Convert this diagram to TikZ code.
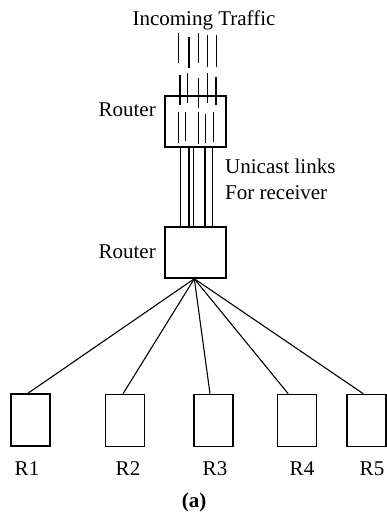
\documentclass[tikz,border=0pt]{standalone}
\usepackage{fontspec}
\setmainfont{Liberation Serif}
\usetikzlibrary{calc}
\begin{document}
\begin{tikzpicture}[x=1pt,y=-1pt,
  box/.style={draw,line width=1.5pt,inner sep=0pt},
  rbox/.style={box,minimum width=39pt,minimum height=52pt},
  router/.style={box,minimum width=61pt,minimum height=51pt},
  lbl/.style={inner sep=0pt,font=\fontsize{21}{26}\selectfont},
  link/.style={line width=1.5pt},
  wire/.style={line width=1.5pt},
  fanline/.style={line width=1.1pt}]
\useasboundingbox (0,0) rectangle (387,517);
% routers
\node[router] (r1) at (195.5,121.5) {};
\node[router] (r2) at (195.5,252.5) {};
\node[lbl,anchor=east] (r1l) at (156,110) {Router};
\node[lbl,anchor=east] (r2l) at (156,252) {Router};
% receivers
\node[rbox] (h1) at (30.5,420) {};
\node[rbox] (h2) at (124.8,420.5) {};
\node[rbox] (h3) at (213.5,420.5) {};
\node[rbox] (h4) at (297.2,420.5) {};
\node[rbox] (h5) at (366.7,420.5) {};
\node[lbl] (l1) at (27,469) {R1};
\node[lbl] (l2) at (128,469) {R2};
\node[lbl] (l3) at (215,469) {R3};
\node[lbl] (l4) at (302,469) {R4};
\node[lbl] (l5) at (372,469) {R5};
\node[lbl,font=\fontsize{21}{26}\selectfont\bfseries] (cap) at (194,502) {(a)};
\node[lbl] (title) at (204,20) {Incoming Traffic};
\node[lbl,anchor=west,align=left] (uni) at (225,179.5) {Unicast links\\For receiver};
% incoming traffic lines
\foreach \x/\a/\b in {178.5/33/63, 189/37/68, 198.5/33/63, 207.5/35/67, 216.5/35/67}
  \draw[wire] (\x,\a) -- (\x,\b);
\foreach \x/\a/\b in {180/75/105, 187.5/73/103, 198.5/78/108, 207.5/73/103, 216/77/105}
  \draw[wire] (\x,\a) -- (\x,\b);
\foreach \x/\a/\b in {178.5/112/143, 185.5/112/141, 198.5/112/144, 205.5/114/143, 213.5/112/142}
  \draw[wire] (\x,\a) -- (\x,\b);
% unicast links between routers
\foreach \d in {-15,-6.5,-2,9.5,17}
  \draw[link] ($(r1.south)+(\d,0)$) -- ($(r2.north)+(\d,0)$);
% fan-out
\coordinate (fan) at ($(r2.south)+(-1.2,0)$);
\draw[fanline] (fan) -- ($(h1.north)+(-2.5,0)$);
\draw[fanline] (fan) -- ($(h2.north)+(-1.8,0)$);
\draw[fanline] (fan) -- ($(h3.north)+(-3.5,0)$);
\draw[fanline] (fan) -- ($(h4.north)+(-9,0)$);
\draw[fanline] (fan) -- ($(h5.north)+(-3.4,0)$);
\end{tikzpicture}
\end{document}
